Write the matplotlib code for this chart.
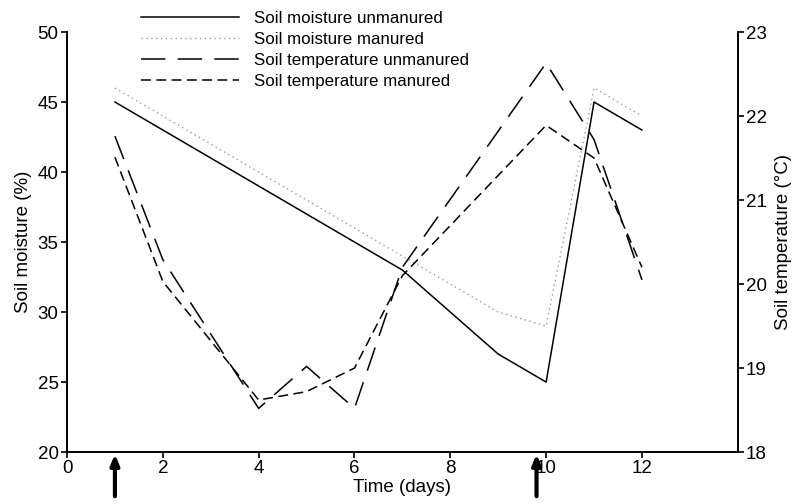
import matplotlib
matplotlib.use("Agg")
import matplotlib.pyplot as plt

plt.rcParams['font.family'] = ['Liberation Sans', 'DejaVu Sans']

# Data
moist_days = [1, 7, 9, 10, 11, 12]
moist_unmanured = [45, 33, 27, 25, 45, 43]
moist_manured = [46, 34, 30, 29, 46, 44]

temp_days = [1, 2, 4, 5, 6, 7, 10, 11, 12]
temp_unmanured = [21.76, 20.29, 18.52, 19.02, 18.52, 20.2, 22.63, 21.72, 20.05]
temp_manured = [21.51, 20.03, 18.62, 18.72, 19.0, 20.1, 21.89, 21.5, 20.2]

arrow_days = [1, 9.8]

xticks = [0, 2, 4, 6, 8, 10, 12]
yticks_left = [20, 25, 30, 35, 40, 45, 50]
yticks_right = [18, 19, 20, 21, 22, 23]

fig = plt.figure(figsize=(7.95, 5.04), dpi=100)
ax = fig.add_axes([0.0843, 0.103, 0.8437, 0.8335])
ax2 = ax.twinx()

l1, = ax.plot(moist_days, moist_unmanured, color='black', lw=1.1, label='Soil moisture unmanured')
l2, = ax.plot(moist_days, moist_manured, color='#9a9a9a', lw=1.0, linestyle=(0, (1, 2.5)), label='Soil moisture manured')
l3, = ax2.plot(temp_days, temp_unmanured, color='black', lw=1.1, linestyle=(0, (16, 8)), label='Soil temperature unmanured')
l4, = ax2.plot(temp_days, temp_manured, color='black', lw=1.1, linestyle=(0, (6.5, 3.5)), label='Soil temperature manured')

ax.set_xlim(0, 14)
ax.set_ylim(20, 50)
ax2.set_ylim(18, 23)
ax.set_xticks(xticks)
ax.set_yticks(yticks_left)
ax2.set_yticks(yticks_right)

for a in (ax, ax2):
    a.spines['top'].set_visible(False)
    for s in a.spines.values():
        s.set_linewidth(1.2)
    a.tick_params(direction='out', length=4, width=1.2, labelsize=13.5, pad=2)

ax.set_xlabel('Time (days)', fontsize=13.5, labelpad=1)
ax.set_ylabel('Soil moisture (%)', fontsize=13.5, labelpad=4)
ax2.set_ylabel('Soil temperature (°C)', fontsize=13.5, labelpad=6)

for d in arrow_days:
    ax.annotate('', xy=(d, -0.005), xycoords=('data', 'axes fraction'),
                xytext=(d, -0.105), textcoords=('data', 'axes fraction'),
                arrowprops=dict(arrowstyle='-|>,head_width=0.25,head_length=0.6',
                                lw=3, color='black', shrinkA=0, shrinkB=0),
                annotation_clip=False)

leg = ax.legend(handles=[l1, l2, l3, l4], loc='upper left', bbox_to_anchor=(0.1, 1.066),
                frameon=False, fontsize=12.2, handlelength=5.8, handletextpad=0.9,
                labelspacing=0.36, borderaxespad=0)

fig.savefig('out.png', dpi=100)
